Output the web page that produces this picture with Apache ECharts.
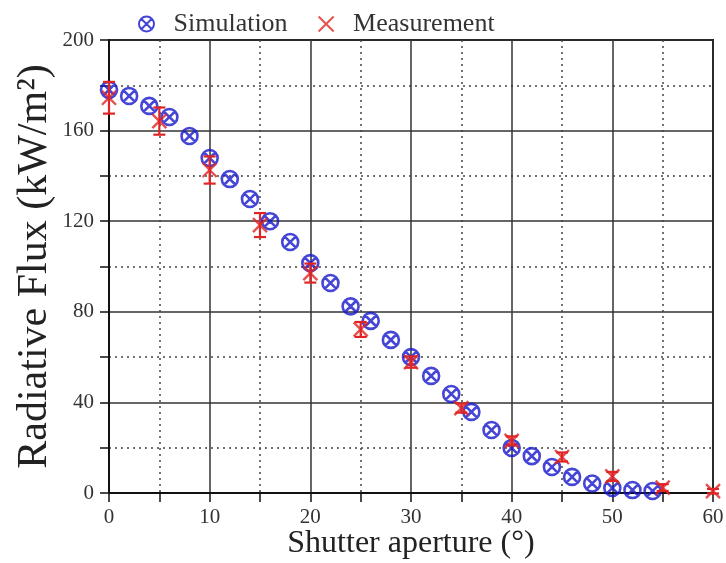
<!DOCTYPE html>
<html>
<head>
<meta charset="utf-8">
<script src="https://cdn.jsdelivr.net/npm/echarts@6/dist/echarts.min.js"></script>
<style>
  html, body { margin: 0; padding: 0; background: #fff; }
  #chart { width: 726px; height: 563px; }
</style>
</head>
<body>
<div id="chart"></div>
<script>
// Simulated radiative flux (kW/m²) against shutter aperture (°)
const simAperture = [0, 2, 4, 6, 8, 10, 12, 14, 16, 18, 20, 22, 24, 26, 28, 30, 32, 34, 36, 38, 40, 42, 44, 46, 48, 50, 52, 54];
const simFlux = [178, 175.3, 170.9, 166, 157.6, 147.9, 138.6, 129.8, 120, 110.8, 101.5, 92.7, 82.4, 76, 67.6, 60, 51.7, 43.7, 35.8, 27.8, 19.9, 16.3, 11.5, 7.1, 4.2, 2.2, 1.3, 0.9];

// Measured radiative flux with its uncertainty (±)
const measAperture = [0, 5, 10, 15, 20, 25, 30, 35, 40, 45, 50, 55, 60];
const measFlux = [174.5, 164.2, 142.6, 118.3, 97.1, 72.2, 57.8, 37.5, 23, 15.9, 7.3, 2.4, 0.8];
const measErr = [7, 6, 6, 5.3, 4.2, 3.3, 2.5, 2, 2, 2, 2, 1.5, 1];

const FONT = 'Liberation Serif';
const BLUE = '#1616cc';
const RED = '#e02424';

const simPoints = simAperture.map((x, i) => [x, simFlux[i]]);
const measPoints = measAperture.map((x, i) => [x, measFlux[i], measErr[i]]);

const chart = echarts.init(document.getElementById('chart'), null, { renderer: 'canvas' });

const axisCommon = {
  type: 'value',
  axisLine: { show: true, lineStyle: { color: '#111', width: 2 } },
  axisTick: { show: true, length: 9, lineStyle: { color: '#111', width: 1.5 } },
  minorTick: { show: true, splitNumber: 2, length: 9, lineStyle: { color: '#111', width: 1.5 } },
  splitLine: { show: true, lineStyle: { color: '#333', width: 1.5 } },
  minorSplitLine: { show: true, lineStyle: { color: '#444', width: 1.5, type: [2, 4] } }
};

chart.setOption({
  animation: false,
  backgroundColor: '#fff',
  grid: {
    left: 109, right: 13, top: 40, bottom: 70,
    outerBoundsMode: 'none',
    show: true, borderColor: '#111', borderWidth: 2, backgroundColor: 'transparent'
  },
  legend: {
    top: 6, left: 133,
    itemWidth: 44, itemHeight: 15, itemGap: 30,
    textStyle: { fontFamily: FONT, fontSize: 26, color: '#333' },
    data: ['Simulation', 'Measurement']
  },
  xAxis: Object.assign({}, axisCommon, {
    min: 0, max: 60, interval: 10,
    name: 'Shutter aperture (°)',
    nameLocation: 'middle', nameGap: 35, nameMoveOverlap: false,
    nameTextStyle: { fontFamily: FONT, fontSize: 32, color: '#222' },
    axisLabel: { fontFamily: FONT, fontSize: 21, color: '#333', margin: 14 }
  }),
  yAxis: Object.assign({}, axisCommon, {
    min: 0, max: 200, interval: 40,
    name: 'Radiative Flux (kW/m²)',
    nameLocation: 'middle', nameGap: 53, nameMoveOverlap: false,
    nameTextStyle: { fontFamily: FONT, fontSize: 42, color: '#222' },
    axisLabel: { fontFamily: FONT, fontSize: 21, color: '#333', margin: 15 }
  }),
  series: [
    {
      name: 'Simulation',
      type: 'scatter',
      symbol: 'path://M2,10A8,8,0,1,1,18,10A8,8,0,1,1,2,10ZM4.6,4.6L15.4,15.4M15.4,4.6L4.6,15.4',
      symbolSize: 16,
      itemStyle: { color: 'transparent', borderColor: BLUE, borderWidth: 2.6 },
      emphasis: { disabled: true },
      data: simPoints,
      z: 3
    },
    {
      name: 'Measurement error',
      type: 'custom',
      silent: true,
      data: measPoints,
      encode: { x: 0, y: 1 },
      renderItem: function (params, api) {
        const x = api.value(0), y = api.value(1), e = api.value(2);
        const top = api.coord([x, y + e]);
        const bot = api.coord([x, y - e]);
        const hw = 6;
        const style = { stroke: RED, lineWidth: 2.2 };
        return {
          type: 'group',
          children: [
            { type: 'line', shape: { x1: top[0], y1: top[1], x2: bot[0], y2: bot[1] }, style: style },
            { type: 'line', shape: { x1: top[0] - hw, y1: top[1], x2: top[0] + hw, y2: top[1] }, style: style },
            { type: 'line', shape: { x1: bot[0] - hw, y1: bot[1], x2: bot[0] + hw, y2: bot[1] }, style: style }
          ]
        };
      },
      z: 4
    },
    {
      name: 'Measurement',
      type: 'scatter',
      symbol: 'path://M0,0L10,10M10,0L0,10',
      symbolSize: 14,
      itemStyle: { color: 'transparent', borderColor: RED, borderWidth: 2.4 },
      emphasis: { disabled: true },
      data: measPoints.map(p => [p[0], p[1]]),
      z: 5
    }
  ]
});
</script>
</body>
</html>
